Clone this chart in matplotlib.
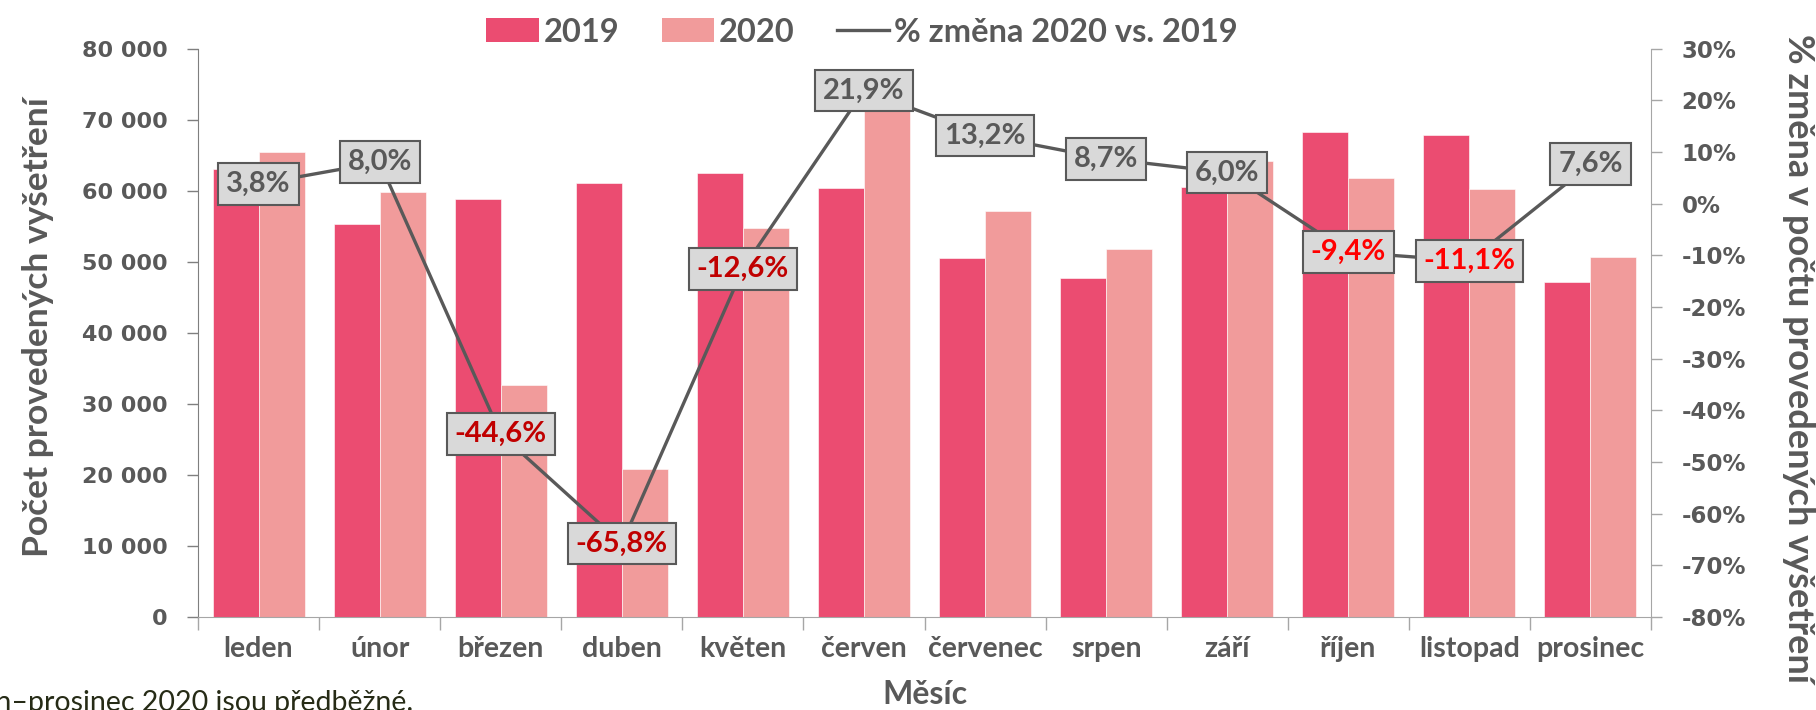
import matplotlib
matplotlib.use('Agg')
import matplotlib.pyplot as plt
import numpy as np
from matplotlib.ticker import FuncFormatter, MultipleLocator
from matplotlib.patches import Patch
from matplotlib.lines import Line2D

# ---- data ----
months = ['leden', 'únor', 'březen', 'duben', 'květen', 'červen', 'červenec',
          'srpen', 'září', 'říjen', 'listopad', 'prosinec']
v2019 = [63080, 55360, 58800, 61150, 62550, 60330, 50470, 47700, 60490, 68220, 67800, 47110]
v2020 = [65430, 59790, 32600, 20900, 54680, 73550, 57150, 51780, 64120, 61810, 60290, 50690]
pct_change = [3.8, 8.0, -44.6, -65.8, -12.6, 21.9, 13.2, 8.7, 6.0, -9.4, -11.1, 7.6]
label_colors = ['#595959', '#595959', '#C00000', '#C00000', '#C00000', '#595959',
                '#595959', '#595959', '#595959', '#FF0000', '#FF0000', '#595959']

series_names = ['2019', '2020', '% změna 2020 vs. 2019']
y_title_left = 'Počet provedených vyšetření'
y_title_right = '% změna v počtu provedených vyšetření'
x_title = 'Měsíc'
footnote = 'Údaje za leden–prosinec 2020 jsou předběžné.'

C19 = '#EB4C71'
C20 = '#F19B9B'
GREY = '#595959'
FONT = 'Lato'
TICKFONT = 'DejaVu Sans'

W, H = 1816, 710
fig = plt.figure(figsize=(W / 100, H / 100), dpi=100)
left, right, top, bottom = 198, 1651, 48.6, 617
ax = fig.add_axes([left / W, 1 - bottom / H, (right - left) / W, (bottom - top) / H])

x = np.arange(len(months))
w = 0.38
ax.bar(x - w / 2, v2019, w, color=C19, edgecolor='white', linewidth=0.4, zorder=2)
ax.bar(x + w / 2, v2020, w, color=C20, edgecolor='white', linewidth=0.4, zorder=2)
ax.set_xlim(-0.5, len(months) - 0.5)
ax.set_ylim(0, 80000)
ax.yaxis.set_major_locator(MultipleLocator(10000))
ax.yaxis.set_major_formatter(FuncFormatter(lambda v, _: f"{int(v):,}".replace(',', ' ')))

# x ticks at category boundaries, labels at centres
ax.set_xticks(np.arange(-0.5, len(months), 1))
ax.set_xticklabels([])
ax.set_xticks(x, minor=True)
ax.set_xticklabels(months, minor=True)
ax.tick_params(axis='x', which='major', length=9, color='#A6A6A6', width=1)
ax.tick_params(axis='x', which='minor', length=0, pad=14)
for t in ax.get_xticklabels(minor=True):
    t.set_fontfamily(FONT); t.set_fontweight('bold'); t.set_fontsize(20.5); t.set_color(GREY)

ax.tick_params(axis='y', length=8, color='#7F7F7F', width=1, pad=14)
for t in ax.get_yticklabels():
    t.set_fontfamily(TICKFONT); t.set_fontweight('bold'); t.set_fontsize(16); t.set_color(GREY)

for s in ['top', 'right']:
    ax.spines[s].set_visible(False)
ax.spines['left'].set_color('#7F7F7F')
ax.spines['bottom'].set_color('#A6A6A6')

ax.set_ylabel(y_title_left, fontfamily=FONT, fontweight='bold', fontsize=25.5, color=GREY,
              va='center')
ax.yaxis.set_label_coords((38 - left) / (right - left), 0.51)
ax.set_xlabel(x_title, fontfamily=FONT, fontweight='bold', fontsize=23, color=GREY)
ax.xaxis.set_label_coords(0.5, (bottom - 694) / (bottom - top))
ax.xaxis.label.set_va('center')

# secondary axis
ax2 = ax.twinx()
ax2.set_ylim(-80, 30)
ax2.yaxis.set_major_locator(MultipleLocator(10))
ax2.yaxis.set_major_formatter(FuncFormatter(lambda v, _: f"{int(round(v))}%"))
ax2.tick_params(axis='y', length=8, color='#A6A6A6', width=1, pad=14)
for t in ax2.get_yticklabels():
    t.set_fontfamily(TICKFONT); t.set_fontweight('bold'); t.set_fontsize(16.5); t.set_color(GREY)
for s in ['top', 'left', 'bottom']:
    ax2.spines[s].set_visible(False)
ax2.spines['right'].set_color('#A6A6A6')
ax2.set_ylabel(y_title_right, fontfamily=FONT, fontweight='bold', fontsize=26, color=GREY,
               rotation=270, va='center')
ax2.yaxis.set_label_coords((1798 - left) / (right - left), 0.455)

ax2.plot(x, pct_change, color=GREY, lw=2.4, zorder=3, solid_capstyle='butt')
for xi, p, c in zip(x, pct_change, label_colors):
    ax2.text(xi, p, f"{p:.1f}".replace('.', ',') + '%', ha='center', va='center',
             fontfamily=FONT, fontweight='bold', fontsize=21, color=c, zorder=5,
             bbox=dict(boxstyle='square,pad=0.27', fc='#D9D9D9', ec=GREY, lw=1.5))

# legend
handles = [Patch(facecolor=C19, edgecolor='none'),
           Patch(facecolor=C20, edgecolor='none'),
           Line2D([0], [0], color=GREY, lw=2.4)]
leg = fig.legend(handles, series_names, loc='center', bbox_to_anchor=(862 / W, 1 - 32 / H),
                 ncol=3, frameon=False, handlelength=1.6, handleheight=0.75,
                 handletextpad=0.15, columnspacing=1.3,
                 prop=dict(family=FONT, weight='bold', size=23.5))
for t in leg.get_texts():
    t.set_color(GREY)

fig.text(413 / W, 1 - 711 / H, footnote, ha='right', va='baseline',
         fontfamily=FONT, fontsize=20.5, color='#262B16')

fig.savefig('out.png', dpi=100)
